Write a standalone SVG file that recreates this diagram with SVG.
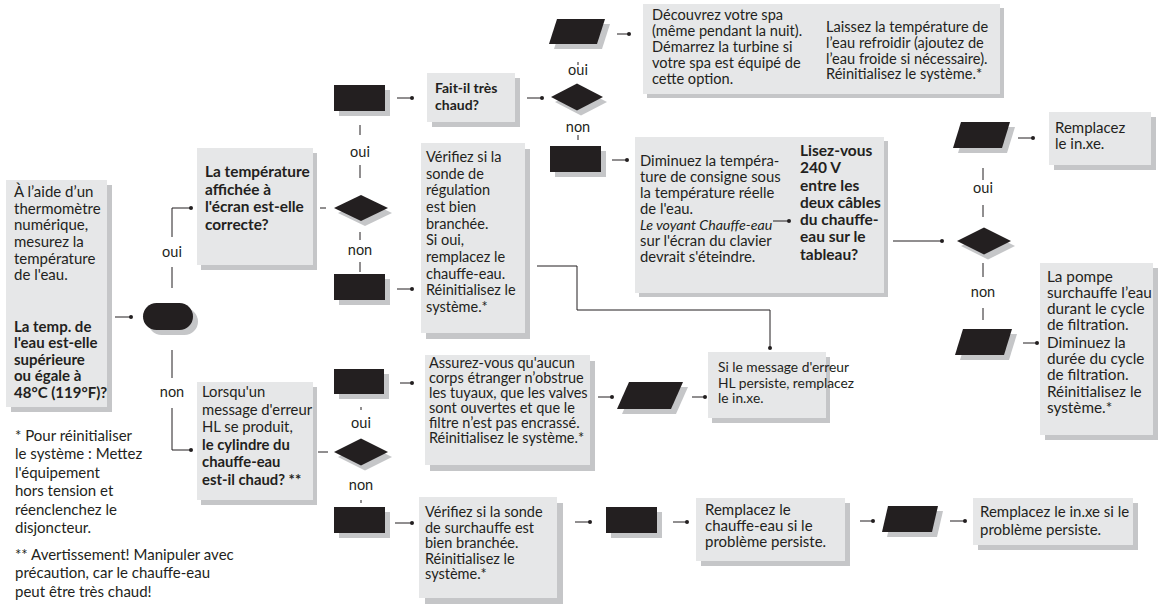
<svg xmlns="http://www.w3.org/2000/svg" width="1158" height="614" viewBox="0 0 1158 614">
  <defs>
    <style>
      .box { fill: #e6e7e8; }
      .sh { fill: #c5c6c8; }
      .blk { fill: #231f20; }
      .t { font-family: Lato, "Liberation Sans", sans-serif; font-size: 15px; fill: #231f20; }
      .b { font-weight: bold; }
      .i { font-style: italic; }
      .lbl { font-family: Lato, "Liberation Sans", sans-serif; font-size: 14.5px; fill: #231f20; text-anchor: middle; }
      .ln { stroke: #231f20; stroke-width: 1; fill: none; }
      .dot { fill: #231f20; }
    </style>
  </defs>
  <rect width="1158" height="614" fill="#ffffff"/>

  <!-- start question -->
  <g id="n-start">
    <rect class="sh" x="11" y="185" width="101" height="227"/>
    <rect class="box" x="6" y="180" width="101" height="227"/>
    <text class="t">
      <tspan x="14" y="197">À l’aide d’un</tspan>
      <tspan x="14" y="214">thermomètre</tspan>
      <tspan x="14" y="230">numérique,</tspan>
      <tspan x="14" y="247">mesurez la</tspan>
      <tspan x="14" y="264">température</tspan>
      <tspan x="14" y="280">de l'eau.</tspan>
      <tspan class="b" x="14" y="332">La temp. de</tspan>
      <tspan class="b" x="14" y="348">l'eau est-elle</tspan>
      <tspan class="b" x="14" y="365">supérieure</tspan>
      <tspan class="b" x="14" y="381">ou égale à</tspan>
      <tspan class="b" x="14" y="398">48°C (119°F)?</tspan>
    </text>
  </g>

  <g id="n-pill">
    <rect class="sh" x="148" y="308" width="50" height="27" rx="13.5"/>
    <rect class="blk" x="143" y="303" width="50" height="27" rx="13.5"/>
  </g>

  <g id="n-display">
    <rect class="sh" x="201" y="153" width="116" height="117"/>
    <rect class="box" x="197" y="148" width="116" height="117"/>
    <text class="t b" style="font-size:15.4px">
      <tspan x="205" y="177">La température</tspan>
      <tspan x="205" y="195">affichée à</tspan>
      <tspan x="205" y="212">l'écran est-elle</tspan>
      <tspan x="205" y="230">correcte?</tspan>
    </text>
  </g>

  <g id="n-d1">
    <polygon class="sh" points="338,213 365,200 392,213 365,226"/>
    <polygon class="blk" points="334,208 361,195 388,208 361,221"/>
  </g>

  <g id="n-r1">
    <rect class="sh" x="339" y="90" width="51" height="26"/>
    <rect class="blk" x="334" y="85" width="51" height="26"/>
  </g>

  <g id="n-r3">
    <rect class="sh" x="339" y="279" width="51" height="26"/>
    <rect class="blk" x="334" y="274" width="51" height="26"/>
  </g>

  <g id="n-hot">
    <rect class="sh" x="432" y="78" width="88" height="49"/>
    <rect class="box" x="427" y="73" width="88" height="49"/>
    <text class="t b" style="font-size:14px">
      <tspan x="435" y="93">Fait-il très</tspan>
      <tspan x="435" y="110">chaud?</tspan>
    </text>
  </g>

  <g id="n-d2">
    <polygon class="sh" points="555,102 581,88.5 607,102 581,115.5"/>
    <polygon class="blk" points="551,97 577,83.5 603,97 577,110.5"/>
  </g>

  <g id="n-p1">
    <polygon class="sh" points="562,24 610,24 602,49 554,49"/>
    <polygon class="blk" points="557,19 605,19 597,44 549,44"/>
  </g>

  <g id="n-r2">
    <rect class="sh" x="555" y="151" width="51" height="26"/>
    <rect class="blk" x="550" y="146" width="51" height="26"/>
  </g>

  <g id="n-uncover">
    <rect class="sh" x="647" y="8" width="357" height="90"/>
    <rect class="box" x="643" y="4" width="357" height="90"/>
    <text class="t" style="font-size:14.6px">
      <tspan x="652" y="20">Découvrez votre spa</tspan>
      <tspan x="652" y="36">(même pendant la nuit).</tspan>
      <tspan x="652" y="52">Démarrez la turbine si</tspan>
      <tspan x="652" y="68">votre spa est équipé de</tspan>
      <tspan x="652" y="84">cette option.</tspan>
    </text>
    <text class="t" style="font-size:14.6px">
      <tspan x="826" y="32">Laissez la température de</tspan>
      <tspan x="826" y="48">l’eau refroidir (ajoutez de</tspan>
      <tspan x="826" y="63.5">l’eau froide si nécessaire).</tspan>
      <tspan x="826" y="79">Réinitialisez le système.*</tspan>
    </text>
  </g>

  <g id="n-lower">
    <rect class="sh" x="639" y="141" width="249" height="156"/>
    <rect class="box" x="635" y="137" width="249" height="156"/>
    <text class="t" style="font-size:14.8px">
      <tspan x="640" y="166">Diminuez la tempéra-</tspan>
      <tspan x="640" y="182">ture de consigne sous</tspan>
      <tspan x="640" y="198">la température réelle</tspan>
      <tspan x="640" y="214">de l'eau.</tspan>
      <tspan class="i" x="640" y="230" style="font-size:14.2px">Le voyant Chauffe-eau</tspan>
      <tspan x="640" y="246">sur l'écran du clavier</tspan>
      <tspan x="640" y="262">devrait s'éteindre.</tspan>
    </text>
    <text class="t b" style="font-size:15.5px">
      <tspan x="800" y="156">Lisez-vous</tspan>
      <tspan x="800" y="173">240 V</tspan>
      <tspan x="800" y="190.5">entre les</tspan>
      <tspan x="800" y="208">deux câbles</tspan>
      <tspan x="800" y="225">du chauffe-</tspan>
      <tspan x="800" y="242">eau sur le</tspan>
      <tspan x="800" y="259.5">tableau?</tspan>
    </text>
  </g>

  <g id="n-d3">
    <polygon class="sh" points="961,246 988,232.5 1015,246 988,259.5"/>
    <polygon class="blk" points="957,241 984,227.5 1011,241 984,254.5"/>
  </g>

  <g id="n-p2">
    <polygon class="sh" points="966,127 1015,127 1007,153 958,153"/>
    <polygon class="blk" points="961,122 1010,122 1002,148 953,148"/>
  </g>

  <g id="n-p3">
    <polygon class="sh" points="968,334 1017,334 1009,360 960,360"/>
    <polygon class="blk" points="963,329 1012,329 1004,355 955,355"/>
  </g>

  <g id="n-replace1">
    <rect class="sh" x="1054" y="117" width="102" height="53"/>
    <rect class="box" x="1049" y="112" width="102" height="53"/>
    <text class="t">
      <tspan x="1055" y="133">Remplacez</tspan>
      <tspan x="1055" y="149">le in.xe.</tspan>
    </text>
  </g>

  <g id="n-pump">
    <rect class="sh" x="1045" y="268" width="113" height="172"/>
    <rect class="box" x="1040" y="263" width="113" height="172"/>
    <text class="t" style="font-size:15.3px">
      <tspan x="1047" y="282">La pompe</tspan>
      <tspan x="1047" y="298">surchauffe l’eau</tspan>
      <tspan x="1047" y="314">durant le cycle</tspan>
      <tspan x="1047" y="330">de filtration.</tspan>
      <tspan x="1047" y="348">Diminuez la</tspan>
      <tspan x="1047" y="364">durée du cycle</tspan>
      <tspan x="1047" y="380">de filtration.</tspan>
      <tspan x="1047" y="397">Réinitialisez le</tspan>
      <tspan x="1047" y="413">système.*</tspan>
    </text>
  </g>

  <g id="n-probe">
    <rect class="sh" x="426" y="149" width="104" height="190"/>
    <rect class="box" x="421" y="143" width="104" height="190"/>
    <text class="t" style="font-size:14.5px">
      <tspan x="426" y="162">Vérifiez si la</tspan>
      <tspan x="426" y="178.5">sonde de</tspan>
      <tspan x="426" y="195">régulation</tspan>
      <tspan x="426" y="212">est bien</tspan>
      <tspan x="426" y="228.5">branchée.</tspan>
      <tspan x="426" y="245">Si oui,</tspan>
      <tspan x="426" y="262">remplacez le</tspan>
      <tspan x="426" y="278.5">chauffe-eau.</tspan>
      <tspan x="426" y="295">Réinitialisez le</tspan>
      <tspan x="426" y="312">système.*</tspan>
    </text>
  </g>

  <g id="n-hl">
    <rect class="sh" x="712" y="357" width="118" height="66"/>
    <rect class="box" x="708" y="352" width="118" height="66"/>
    <text class="t" style="font-size:13.8px">
      <tspan x="718" y="372">Si le message d'erreur</tspan>
      <tspan x="718" y="387.5">HL persiste, remplacez</tspan>
      <tspan x="718" y="403">le in.xe.</tspan>
    </text>
  </g>

  <g id="n-cylinder">
    <rect class="sh" x="201" y="387" width="116" height="118"/>
    <rect class="box" x="197" y="382" width="116" height="118"/>
    <text class="t" style="font-size:14.8px">
      <tspan x="202" y="397">Lorsqu'un</tspan>
      <tspan x="202" y="415">message d'erreur</tspan>
      <tspan x="202" y="432">HL se produit,</tspan>
      <tspan class="b" x="202" y="450">le cylindre du</tspan>
      <tspan class="b" x="202" y="467">chauffe-eau</tspan>
      <tspan class="b" x="202" y="485">est-il chaud? **</tspan>
    </text>
  </g>

  <g id="n-d4">
    <polygon class="sh" points="338,457 365,443.5 392,457 365,470.5"/>
    <polygon class="blk" points="334,452 361,438.5 388,452 361,465.5"/>
  </g>

  <g id="n-r4">
    <rect class="sh" x="339" y="374" width="50" height="25"/>
    <rect class="blk" x="334" y="369" width="50" height="25"/>
  </g>

  <g id="n-r5">
    <rect class="sh" x="339" y="512" width="51" height="26"/>
    <rect class="blk" x="334" y="507" width="51" height="26"/>
  </g>

  <g id="n-pipes">
    <rect class="sh" x="430" y="361" width="165" height="110"/>
    <rect class="box" x="425" y="355" width="165" height="110"/>
    <text class="t" style="font-size:14.5px">
      <tspan x="429" y="368">Assurez-vous qu'aucun</tspan>
      <tspan x="429" y="383">corps étranger n’obstrue</tspan>
      <tspan x="429" y="398">les tuyaux, que les valves</tspan>
      <tspan x="429" y="413">sont ouvertes et que le</tspan>
      <tspan x="429" y="428">filtre n’est pas encrassé.</tspan>
      <tspan x="429" y="443">Réinitialisez le système.*</tspan>
    </text>
  </g>

  <g id="n-p4">
    <polygon class="sh" points="634,387 688,387 676,414 622,414"/>
    <polygon class="blk" points="629,382 683,382 671,409 617,409"/>
  </g>

  <g id="n-overheat">
    <rect class="sh" x="425" y="503" width="138" height="101"/>
    <rect class="box" x="419" y="497" width="138" height="101"/>
    <text class="t" style="font-size:14.5px">
      <tspan x="425" y="517">Vérifiez si la sonde</tspan>
      <tspan x="425" y="532.5">de surchauffe est</tspan>
      <tspan x="425" y="548">bien branchée.</tspan>
      <tspan x="425" y="563.5">Réinitialisez le</tspan>
      <tspan x="425" y="579">système.*</tspan>
    </text>
  </g>

  <g id="n-r6">
    <rect class="sh" x="611" y="512" width="51" height="26"/>
    <rect class="blk" x="606" y="507" width="51" height="26"/>
  </g>

  <g id="n-replace2">
    <rect class="sh" x="701" y="503" width="149" height="63"/>
    <rect class="box" x="696" y="498" width="149" height="63"/>
    <text class="t">
      <tspan x="705" y="515">Remplacez le</tspan>
      <tspan x="705" y="531">chauffe-eau si le</tspan>
      <tspan x="705" y="547">problème persiste.</tspan>
    </text>
  </g>

  <g id="n-p5">
    <polygon class="sh" points="893,511 943,511 937,537 887,537"/>
    <polygon class="blk" points="888,506 938,506 932,532 882,532"/>
  </g>

  <g id="n-replace3">
    <rect class="sh" x="978" y="503" width="160" height="47"/>
    <rect class="box" x="973" y="498" width="160" height="47"/>
    <text class="t">
      <tspan x="980" y="517">Remplacez le in.xe si le</tspan>
      <tspan x="980" y="535">problème persiste.</tspan>
    </text>
  </g>

  <g id="notes">
    <text class="t">
      <tspan x="15" y="441">* Pour réinitialiser</tspan>
      <tspan x="15" y="459">le système : Mettez</tspan>
      <tspan x="15" y="478">l'équipement</tspan>
      <tspan x="15" y="496">hors tension et</tspan>
      <tspan x="15" y="515">réenclenchez le</tspan>
      <tspan x="15" y="533">disjoncteur.</tspan>
      <tspan x="15" y="560">** Avertissement! Manipuler avec</tspan>
      <tspan x="15" y="578">précaution, car le chauffe-eau</tspan>
      <tspan x="15" y="597">peut être très chaud!</tspan>
    </text>
  </g>

  <g id="connectors">
    <path class="ln" d="M115,317 H131"/>
    <circle class="dot" cx="131" cy="317" r="2"/>
    <path class="ln" d="M172,288 V267 M172,237 V208 H191"/>
    <circle class="dot" cx="191" cy="208" r="2"/>
    <path class="ln" d="M172,350 V378 M172,408 V450 H191"/>
    <circle class="dot" cx="191" cy="450" r="2"/>
    <path class="ln" d="M320,208 H326"/>
    <path class="ln" d="M360,125 V135 M360,165 V178 M360,232 V240 M360,262 V272"/>
    <path class="ln" d="M397,98 H412 M527,98 H542"/>
    <circle class="dot" cx="412" cy="98" r="2"/>
    <circle class="dot" cx="542" cy="98" r="2"/>
    <path class="ln" d="M578,62 V65 M578,135 V140"/>
    <path class="ln" d="M617,34 H629"/>
    <circle class="dot" cx="629" cy="34" r="2"/>
    <path class="ln" d="M612,160 H627"/>
    <circle class="dot" cx="627" cy="160" r="2"/>
    <path class="ln" d="M773,221 H789"/>
    <circle class="dot" cx="789" cy="221" r="2"/>
    <path class="ln" d="M893,241 H942"/>
    <circle class="dot" cx="942" cy="241" r="2"/>
    <path class="ln" d="M983,168 V180 M983,205 V217 M983,263 V277 M983,308 V320"/>
    <path class="ln" d="M1018,138 H1033"/>
    <circle class="dot" cx="1033" cy="138" r="2"/>
    <path class="ln" d="M1023,343 H1037"/>
    <circle class="dot" cx="1037" cy="343" r="2"/>
    <path class="ln" d="M397,289 H412"/>
    <circle class="dot" cx="412" cy="289" r="2"/>
    <path class="ln" d="M537,266 H577 V310 H770 V348"/>
    <circle class="dot" cx="770" cy="348" r="2"/>
    <path class="ln" d="M318,452 H328"/>
    <path class="ln" d="M361,407 V410 M361,500 V503"/>
    <path class="ln" d="M400,383 H412"/>
    <circle class="dot" cx="412" cy="383" r="2"/>
    <path class="ln" d="M598,397 H612 M692,397 H705"/>
    <circle class="dot" cx="612" cy="397" r="2"/>
    <circle class="dot" cx="705" cy="397" r="2"/>
    <path class="ln" d="M395,523 H412"/>
    <circle class="dot" cx="412" cy="523" r="2"/>
    <path class="ln" d="M575,522 H590 M673,522 H687"/>
    <circle class="dot" cx="590" cy="522" r="2"/>
    <circle class="dot" cx="687" cy="522" r="2"/>
    <path class="ln" d="M860,521 H873 M950,521 H965"/>
    <circle class="dot" cx="873" cy="521" r="2"/>
    <circle class="dot" cx="965" cy="521" r="2"/>
  </g>

  <g id="labels">
    <text class="lbl" x="172" y="257">oui</text>
    <text class="lbl" x="172" y="397">non</text>
    <text class="lbl" x="360" y="157">oui</text>
    <text class="lbl" x="360" y="255">non</text>
    <text class="lbl" x="578" y="75">oui</text>
    <text class="lbl" x="578" y="132">non</text>
    <text class="lbl" x="983" y="193">oui</text>
    <text class="lbl" x="983" y="297">non</text>
    <text class="lbl" x="361" y="428">oui</text>
    <text class="lbl" x="361" y="490">non</text>
  </g>
</svg>
